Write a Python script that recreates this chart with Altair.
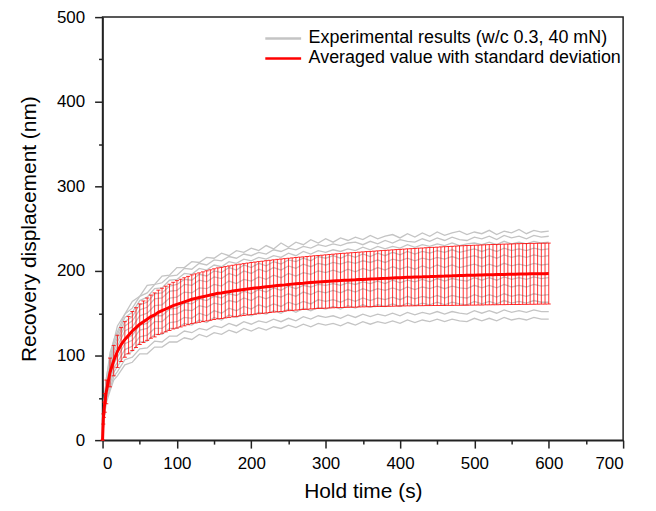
import altair as alt
import pandas as pd

# ---------------- data ----------------
LABEL_EXP = "Experimental results (w/c 0.3, 40 mN)"
LABEL_AVG = "Averaged value with standard deviation"

exp_time = [0, 2, 5, 10, 15, 20] + list(range(30, 601, 10))

exp_1 = [0, 46, 71, 103, 117, 135, 149, 164, 170, 183, 184, 194, 195, 204,
         204, 211, 210, 216, 215, 221, 218, 224, 222, 227,
         224, 230, 226, 233, 228, 234, 231, 237, 233, 238,
         234, 239, 236, 240, 237, 242, 238, 241, 243, 239, 244, 240, 245, 241, 246,
         242, 245, 247, 243, 246, 244, 248, 243, 247, 245, 249, 244, 248, 246, 247]
exp_2 = [0, 42, 73, 97, 118, 128, 149, 156, 170, 174, 184, 186, 194, 195,
         203, 202, 209, 207, 213, 212, 217, 215, 220, 218,
         222, 220, 225, 223, 227, 225, 229, 227, 231, 229,
         232, 230, 233, 234, 231, 235, 232, 236, 233, 237, 235, 234, 238, 235, 239,
         236, 240, 237, 236, 240, 238, 241, 237, 242, 239, 241, 238, 242, 240, 241]
exp_3 = [0, 41, 70, 94, 114, 125, 145, 151, 165, 169, 179, 180, 189, 190,
         197, 196, 203, 201, 207, 205, 211, 209, 214, 212,
         216, 214, 218, 216, 221, 218, 223, 220, 224, 222,
         225, 223, 226, 224, 228, 225, 229, 226, 229, 227, 231, 228, 231, 229, 232,
         230, 233, 230, 232, 233, 231, 234, 231, 235, 232, 234, 232, 235, 233, 234]
exp_4 = [0, 40, 68, 91, 110, 121, 140, 146, 160, 163, 173, 174, 182, 184,
         190, 189, 196, 194, 200, 198, 204, 201, 207, 204,
         209, 206, 211, 208, 213, 211, 215, 212, 217, 215,
         218, 215, 219, 216, 220, 217, 221, 218, 222, 219, 223, 220, 223, 221, 224,
         222, 225, 222, 224, 226, 223, 226, 223, 227, 224, 226, 224, 227, 225, 226]
exp_5 = [0, 38, 66, 88, 106, 116, 135, 141, 154, 157, 167, 168, 176, 177,
         184, 183, 189, 187, 193, 191, 197, 194, 200, 197,
         202, 199, 204, 201, 206, 203, 208, 205, 209, 207,
         210, 208, 211, 209, 212, 210, 213, 210, 214, 212, 215, 212, 215, 213, 216,
         214, 217, 214, 216, 218, 215, 218, 215, 219, 216, 218, 216, 219, 217, 218]
exp_6 = [0, 36, 63, 84, 102, 111, 129, 134, 147, 150, 159, 160, 168, 169,
         175, 174, 180, 179, 184, 182, 188, 185, 190, 188,
         193, 190, 195, 192, 197, 194, 198, 196, 200, 198,
         201, 198, 202, 199, 203, 200, 204, 201, 205, 202, 205, 202, 206, 203, 207,
         204, 207, 204, 206, 208, 205, 208, 205, 209, 206, 208, 206, 209, 207, 208]
exp_7 = [0, 34, 59, 78, 94, 103, 119, 124, 136, 138, 147, 147, 155, 156,
         162, 161, 167, 165, 170, 168, 173, 171, 176, 173,
         178, 175, 180, 177, 182, 179, 183, 181, 184, 183,
         185, 183, 186, 184, 187, 185, 188, 185, 189, 186, 189, 187, 190, 187, 191,
         188, 191, 189, 188, 192, 189, 192, 189, 193, 190, 192, 190, 193, 191, 192]
exp_8 = [0, 32, 56, 74, 90, 98, 114, 118, 130, 132, 140, 140, 148, 149,
         154, 153, 159, 157, 162, 160, 165, 163, 168, 165,
         170, 167, 171, 169, 173, 170, 175, 172, 176, 174,
         177, 174, 178, 175, 179, 176, 179, 177, 180, 177, 181, 178, 181, 179, 182,
         179, 182, 180, 179, 183, 180, 183, 180, 184, 181, 183, 181, 184, 182, 183]
exp_9 = [0, 30, 53, 70, 85, 92, 107, 111, 122, 124, 132, 132, 139, 140,
         145, 144, 150, 147, 153, 150, 156, 153, 158, 155,
         160, 157, 161, 158, 163, 160, 164, 161, 166, 164,
         166, 163, 167, 164, 168, 165, 168, 166, 169, 166, 170, 167, 170, 168, 171,
         168, 171, 169, 168, 172, 169, 172, 169, 173, 170, 172, 170, 173, 171, 172]
exp_10 = [0, 28, 50, 66, 80, 87, 101, 105, 116, 117, 125, 125, 132, 132,
          138, 136, 142, 139, 145, 142, 148, 145, 150, 147,
          151, 149, 153, 150, 155, 151, 156, 153, 157, 155,
          158, 155, 159, 156, 160, 157, 160, 158, 161, 158, 162, 159, 162, 160, 163,
          160, 163, 161, 160, 164, 161, 164, 161, 165, 162, 164, 162, 165, 163, 163]
exp_11 = [0, 26, 47, 61, 75, 81, 95, 98, 108, 109, 117, 116, 123, 123,
          129, 127, 132, 130, 135, 133, 138, 135, 140, 137,
          141, 139, 143, 140, 144, 141, 146, 143, 147, 145,
          147, 144, 148, 145, 149, 146, 149, 147, 150, 147, 151, 148, 151, 149, 152,
          149, 152, 150, 149, 153, 150, 153, 150, 154, 151, 153, 151, 154, 152, 152]
exp_12 = [0, 25, 44, 58, 71, 76, 89, 92, 102, 102, 110, 110, 116, 116,
          121, 119, 125, 122, 127, 125, 130, 127, 132, 129,
          133, 130, 134, 132, 136, 133, 137, 134, 138, 136,
          138, 135, 139, 136, 140, 137, 140, 138, 141, 138, 142, 139, 142, 140, 143,
          140, 143, 141, 140, 144, 141, 144, 141, 145, 142, 144, 142, 145, 143, 143]

exp_curves = [exp_1, exp_2, exp_3, exp_4, exp_5, exp_6,
              exp_7, exp_8, exp_9, exp_10, exp_11, exp_12]

avg_time = [0, 1, 2, 3] + list(range(5, 601, 5))
avg_mean = [0, 25, 36, 44,
            57, 80, 94, 105, 113, 119, 124, 129, 133, 137,
            140, 143, 146, 148, 151, 153, 155, 157, 159, 160.5,
            162, 163.5, 165, 166.5, 167.5, 168.5, 169.5, 170.5, 171.5, 172.5,
            173.5, 174, 174.8, 175.5, 176.2, 176.8, 177.4, 178, 178.6, 179.2,
            179.7, 180.2, 180.7, 181.2, 181.7, 182.2, 182.7, 183.1, 183.5, 184,
            184.4, 184.8, 185.2, 185.5, 185.9, 186.3, 186.6, 186.9, 187.2, 187.5,
            187.8, 188.1, 188.4, 188.6, 188.9, 189.1, 189.3, 189.5, 189.8, 190,
            190.2, 190.4, 190.6, 190.8, 191, 191.2, 191.4, 191.6, 191.8, 192,
            192.2, 192.4, 192.5, 192.7, 192.9, 193, 193.2, 193.3, 193.5, 193.6,
            193.8, 193.9, 194.1, 194.2, 194.4, 194.5, 194.6, 194.8, 194.9, 195,
            195.1, 195.2, 195.4, 195.5, 195.6, 195.7, 195.8, 195.9, 196, 196.1,
            196.2, 196.3, 196.4, 196.5, 196.6, 196.6, 196.7, 196.8, 196.8, 196.9]
avg_sd = [0, 6, 9, 11,
          14, 17, 18, 19, 20, 21, 22, 23, 23.5, 24,
          24.5, 25, 25.5, 26, 26.3, 26.6, 27, 27.3, 27.6, 28,
          28.2, 28.4, 28.6, 28.8, 29, 29.2, 29.4, 29.6, 29.8, 30,
          30.1, 30.2, 30.3, 30.4, 30.5, 30.5, 30.6, 30.6, 30.7, 30.7,
          30.8, 30.8, 30.8, 30.9, 30.9, 30.9, 31, 31, 31, 31,
          31, 31.1, 31.1, 31.1, 31.2, 31.2, 31.3, 31.3, 31.4, 31.5,
          31.6, 31.7, 31.8, 31.9, 32, 32.1, 32.2, 32.3, 32.4, 32.5,
          32.6, 32.7, 32.8, 32.9, 33, 33.1, 33.2, 33.3, 33.4, 33.5,
          33.6, 33.7, 33.8, 33.9, 34, 34.1, 34.2, 34.3, 34.4, 34.5,
          34.6, 34.7, 34.8, 34.9, 35, 35.1, 35.2, 35.3, 35.3, 35.4,
          35.4, 35.5, 35.5, 35.6, 35.6, 35.7, 35.7, 35.8, 35.8, 35.8,
          35.9, 35.9, 35.9, 36, 36, 36, 36, 36, 36, 36]

x_major = [0, 100, 200, 300, 400, 500, 600, 700]
x_minor = [50, 150, 250, 350, 450, 550, 650]
y_major = [0, 100, 200, 300, 400, 500]
y_minor = [50, 150, 250, 350, 450]

# ---------------- tables ----------------
rows = []
for i, curve in enumerate(exp_curves):
    for t, v in zip(exp_time, curve):
        rows.append({"t": t, "v": v, "run": i, "kind": LABEL_EXP})
exp_df = pd.DataFrame(rows)

avg_df = pd.DataFrame({"t": avg_time, "v": avg_mean, "sd": avg_sd})
avg_df["kind"] = LABEL_AVG
avg_df["lo"] = avg_df["v"] - avg_df["sd"]
avg_df["hi"] = avg_df["v"] + avg_df["sd"]

FONT = "Liberation Sans"
AX = "#222222"

x_scale = alt.Scale(domain=[0, 700], nice=False, zero=False)
y_scale = alt.Scale(domain=[0, 500], nice=False)

x_axis = alt.Axis(
    values=x_major, title="Hold time (s)", grid=False, orient="bottom",
    tickSize=8, labelPadding=7, titlePadding=10,
)
y_axis = alt.Axis(
    values=y_major, title="Recovery displacement (nm)", grid=False, orient="left",
    tickSize=8, labelPadding=10, titlePadding=17,
)
x_minor_axis = alt.Axis(
    values=x_minor, title=None, labels=False, domain=False, grid=False,
    orient="bottom", tickSize=4,
)
y_minor_axis = alt.Axis(
    values=y_minor, title=None, labels=False, domain=False, grid=False,
    orient="left", tickSize=4,
)

color = alt.Color(
    "kind:N",
    scale=alt.Scale(domain=[LABEL_EXP, LABEL_AVG], range=["#c4c4c4", "#ff0000"]),
    legend=alt.Legend(
        title=None, orient="none", legendX=171, legendY=11,
        symbolType="M-2,0H2", symbolStrokeWidth=2.5, symbolSize=324,
        labelFontSize=18, labelFont=FONT, labelColor="#000000", labelLimit=0,
        rowPadding=0, labelOffset=15,
    ),
)

gray = alt.Chart(exp_df).mark_line(strokeWidth=1.3).encode(
    x=alt.X("t:Q", scale=x_scale, axis=x_axis),
    y=alt.Y("v:Q", scale=y_scale, axis=y_axis),
    color=color,
    detail="run:N",
)

bars = alt.Chart(avg_df).mark_errorbar(
    ticks={"size": 4, "color": "#ff0000"}, color="#ff0000", thickness=0.9, opacity=0.9
).encode(
    x=alt.X("t:Q", scale=x_scale, axis=None),
    y=alt.Y("lo:Q", scale=y_scale, axis=None),
    y2="hi:Q",
)

mean_line = alt.Chart(avg_df).mark_line(strokeWidth=3).encode(
    x=alt.X("t:Q", scale=x_scale, axis=None),
    y=alt.Y("v:Q", scale=y_scale, axis=None),
    color=color,
)

minor = alt.Chart(avg_df).mark_point(opacity=0).encode(
    x=alt.X("t:Q", scale=x_scale, axis=x_minor_axis),
    y=alt.Y("v:Q", scale=y_scale, axis=y_minor_axis),
)

chart = alt.layer(gray, bars, mean_line, minor).resolve_axis(
    x="independent", y="independent"
).properties(
    width=523, height=425,
    autosize=alt.AutoSizeParams(type="none"),
    padding={"left": 95, "top": 8, "right": 25, "bottom": 62},
).configure_axis(
    domainColor=AX, domainWidth=1.5, tickColor=AX, tickWidth=1.5,
    labelFont=FONT, labelFontSize=17, labelColor="#000000",
    titleFont=FONT, titleFontSize=21, titleFontWeight="normal", titleColor="#000000",
).configure_view(stroke=AX, strokeWidth=1.5)

chart.save("out.html", embed_options={"renderer": "svg", "actions": False})
